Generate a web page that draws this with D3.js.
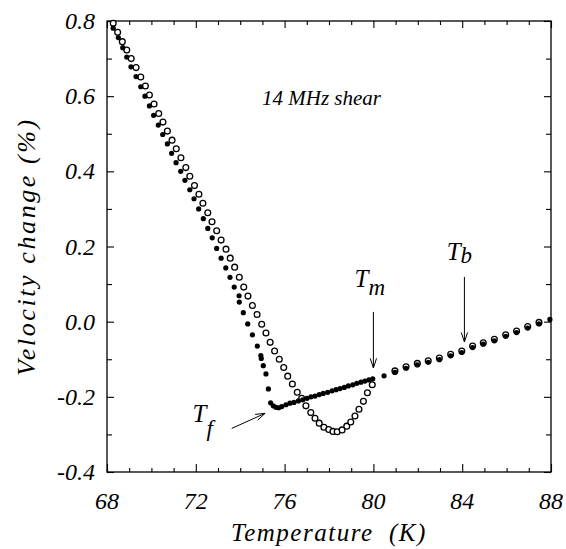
<!DOCTYPE html>
<html>
<head>
<meta charset="utf-8">
<script src="https://cdn.jsdelivr.net/npm/d3@7"></script>
<style>
  html, body { margin: 0; padding: 0; background: #fff; }
  svg { display: block; }
</style>
</head>
<body>
<svg id="chart" width="566" height="549"></svg>
<script>
// ---- data ----
const closedT = [68.28,68.51,68.71,68.89,69.08,69.31,69.52,69.71,69.91,70.10,70.31,70.51,70.72,70.91,71.11,71.32,71.51,71.73,71.92,72.13,72.34,72.54,72.74,72.94,73.14,73.35,73.54,73.73,73.95,73.96,74.14,74.34,74.55,74.77,74.93,74.95,75.04,75.16,75.27,75.37,
  75.49,75.61,75.73,75.87,76.06,76.24,76.42,76.62,76.82,77.01,77.19,77.37,77.56,77.74,77.94,78.14,78.32,78.50,78.69,78.87,79.07,79.25,79.44,79.62,79.80,79.97,80.48,
  80.97,81.47,81.98,82.47,82.97,83.48,83.98,84.47,84.95,85.45,85.96,86.45,86.95,87.46,87.95];
const closedV = [0.781,0.756,0.729,0.704,0.678,0.652,0.625,0.600,0.574,0.549,0.523,0.498,0.473,0.448,0.423,0.400,0.376,0.351,0.327,0.300,0.274,0.248,0.223,0.195,0.169,0.143,0.118,0.092,0.069,0.052,0.024,-0.006,-0.035,-0.065,-0.090,-0.098,-0.117,-0.139,-0.179,-0.216,
  -0.224,-0.228,-0.229,-0.226,-0.221,-0.217,-0.215,-0.211,-0.208,-0.204,-0.200,-0.198,-0.194,-0.191,-0.188,-0.184,-0.181,-0.178,-0.175,-0.171,-0.168,-0.164,-0.161,-0.158,-0.155,-0.152,-0.144,
  -0.135,-0.124,-0.115,-0.108,-0.101,-0.091,-0.082,-0.069,-0.060,-0.051,-0.039,-0.029,-0.017,-0.006,0.006];

const openT = [68.28,68.48,68.69,68.89,69.09,69.31,69.52,69.73,69.91,70.12,70.33,70.52,70.72,70.93,71.12,71.33,71.55,71.73,71.94,72.14,72.32,72.54,72.73,72.94,73.14,73.36,73.55,73.75,73.96,74.16,74.35,74.55,74.76,74.97,
  75.16,75.35,75.55,75.76,75.96,76.14,76.35,76.57,76.77,76.96,77.18,77.37,77.56,77.77,77.99,78.18,78.37,78.59,78.80,78.98,79.17,79.35,79.55,79.73,79.95,
  80.97,81.47,81.98,82.47,82.97,83.48,83.98,84.47,84.95,85.45,85.96,86.45,86.95,87.46];
const openV = [0.794,0.770,0.745,0.723,0.700,0.676,0.651,0.627,0.603,0.579,0.554,0.531,0.507,0.483,0.460,0.436,0.410,0.387,0.362,0.339,0.315,0.290,0.266,0.242,0.217,0.193,0.169,0.145,0.118,0.092,0.068,0.043,0.019,-0.007,
  -0.030,-0.055,-0.078,-0.100,-0.122,-0.145,-0.166,-0.188,-0.204,-0.224,-0.242,-0.257,-0.270,-0.281,-0.287,-0.292,-0.293,-0.288,-0.278,-0.267,-0.251,-0.233,-0.212,-0.189,-0.168,
  -0.131,-0.120,-0.111,-0.104,-0.097,-0.087,-0.078,-0.065,-0.056,-0.047,-0.035,-0.025,-0.013,-0.002];

const xTickValues = [68,72,76,80,84,88];
const xTickLabels = ["68","72","76","80","84","88"];
const yTickValues = [0.8,0.6,0.4,0.2,0.0,-0.2,-0.4];
const yTickLabels = ["0.8","0.6","0.4","0.2","0.0","-0.2","-0.4"];

const xTitle = "Temperature  (K)";
const yTitle = "Velocity change (%)";
const noteText = "14 MHz shear";

// annotations: label, subscript, arrow from (T,v) to (T,v), label anchor (T,v)
const annoLabels = ["T","T","T"];
const annoSubs = ["f","m","b"];
const arrowFromT = [73.62, 80.0, 84.1];
const arrowFromV = [-0.284, 0.026, 0.119];
const arrowToT = [75.12, 80.0, 84.1];
const arrowToV = [-0.244, -0.123, -0.054];
const labelT = [71.85, 79.15, 83.3];
const labelV = [-0.266, 0.092, 0.164];

// ---- drawing ----
const FONT = "'Liberation Serif', 'Times New Roman', Times, 'DejaVu Serif', serif";
const svg = d3.select("#chart");
const L = 107, R = 551, T = 21, B = 472;
const x = d3.scaleLinear().domain([68, 88]).range([L, R]);
const y = d3.scaleLinear().domain([-0.4, 0.8]).range([B, T]);

const g = svg.append("g");

function txt(sel) {
  return sel.attr("font-family", FONT).attr("font-style", "italic").attr("fill", "#000");
}

// frame
g.append("rect").attr("x", L).attr("y", T).attr("width", R - L).attr("height", B - T)
  .attr("fill", "none").attr("stroke", "#000").attr("stroke-width", 1.3);

const xMinor = d3.range(68, 88.01, 1);
const yMinor = d3.range(-4, 8.01, 1).map(d => d / 10);

function isMajorX(d) { return Math.abs(d % 4) < 1e-6; }
function isMajorY(d) { return Math.abs(Math.round(d * 10) % 2) === 0; }

const bottomAxis = d3.axisBottom(x).tickValues(xMinor).tickFormat("").tickSizeOuter(0).tickSizeInner(-4);
const gb = g.append("g").attr("transform", `translate(0,${B})`).call(bottomAxis);
gb.selectAll(".tick line").attr("y2", d => isMajorX(d) ? -8 : -4);
const topAxis = d3.axisTop(x).tickValues(xMinor).tickFormat("").tickSizeOuter(0).tickSizeInner(-4);
const gt = g.append("g").attr("transform", `translate(0,${T})`).call(topAxis);
gt.selectAll(".tick line").attr("y2", d => isMajorX(d) ? 7 : 4);

const leftAxis = d3.axisLeft(y).tickValues(yMinor).tickFormat("").tickSizeOuter(0).tickSizeInner(-5);
const gl = g.append("g").attr("transform", `translate(${L},0)`).call(leftAxis);
gl.selectAll(".tick line").attr("x2", d => isMajorY(d) ? 7 : 5);
const rightAxis = d3.axisRight(y).tickValues(yMinor).tickFormat("").tickSizeOuter(0).tickSizeInner(-5);
const gr = g.append("g").attr("transform", `translate(${R},0)`).call(rightAxis);
gr.selectAll(".tick line").attr("x2", d => isMajorY(d) ? -7 : -5);

[gb, gt, gl, gr].forEach(a => {
  a.select(".domain").remove();
  a.selectAll(".tick line").attr("stroke", "#000").attr("stroke-width", 1.1);
});

// tick labels
txt(g.selectAll(".xlab").data(xTickValues).enter().append("text"))
  .attr("x", d => x(d)).attr("y", B + 37)
  .attr("text-anchor", "middle").attr("font-size", 24)
  .text((d, i) => xTickLabels[i]);
txt(g.selectAll(".ylab").data(yTickValues).enter().append("text"))
  .attr("x", L - 12).attr("y", d => y(d) + 8)
  .attr("text-anchor", "end").attr("font-size", 24)
  .text((d, i) => yTickLabels[i]);

// axis titles
txt(g.append("text")).attr("x", (L + R) / 2).attr("y", 541)
  .attr("text-anchor", "middle").attr("font-size", 25).attr("letter-spacing", 1.5)
  .style("white-space", "pre")
  .text(xTitle);
txt(g.append("text")).attr("transform", `translate(35,${(T + B) / 2}) rotate(-90)`)
  .attr("text-anchor", "middle").attr("font-size", 26).attr("letter-spacing", 2.6)
  .text(yTitle);

// note
txt(g.append("text")).attr("x", 262).attr("y", 105).attr("font-size", 21).text(noteText);

// data points
const openPts = openT.map((t, i) => ({ t, v: openV[i] }));
const closedPts = closedT.map((t, i) => ({ t, v: closedV[i] }));

g.append("g").selectAll("circle").data(openPts).enter().append("circle")
  .attr("cx", d => x(d.t)).attr("cy", d => y(d.v)).attr("r", 2.9)
  .attr("fill", "#fff").attr("stroke", "#000").attr("stroke-width", 1.3);
g.append("g").selectAll("circle").data(closedPts).enter().append("circle")
  .attr("cx", d => x(d.t)).attr("cy", d => y(d.v)).attr("r", 2.6)
  .attr("fill", "#000");

// annotations
const ag = g.append("g");
annoLabels.forEach((lab, i) => {
  const x1 = x(arrowFromT[i]), y1 = y(arrowFromV[i]);
  const x2 = x(arrowToT[i]), y2 = y(arrowToV[i]);
  ag.append("line").attr("x1", x1).attr("y1", y1).attr("x2", x2).attr("y2", y2)
    .attr("stroke", "#000").attr("stroke-width", 1);
  const ang = Math.atan2(y2 - y1, x2 - x1);
  const hl = 10, hw = 0.32;
  [ang + Math.PI - hw, ang + Math.PI + hw].forEach(a => {
    ag.append("line").attr("x1", x2).attr("y1", y2)
      .attr("x2", x2 + hl * Math.cos(a)).attr("y2", y2 + hl * Math.sin(a))
      .attr("stroke", "#000").attr("stroke-width", 1);
  });
  const t = txt(ag.append("text")).attr("x", x(labelT[i])).attr("y", y(labelV[i])).attr("font-size", 25);
  t.append("tspan").text(lab);
  t.append("tspan").attr("dy", i === 0 ? 14 : (i === 1 ? 8 : 3)).attr("font-size", 23).text(annoSubs[i]);
});
</script>
</body>
</html>
